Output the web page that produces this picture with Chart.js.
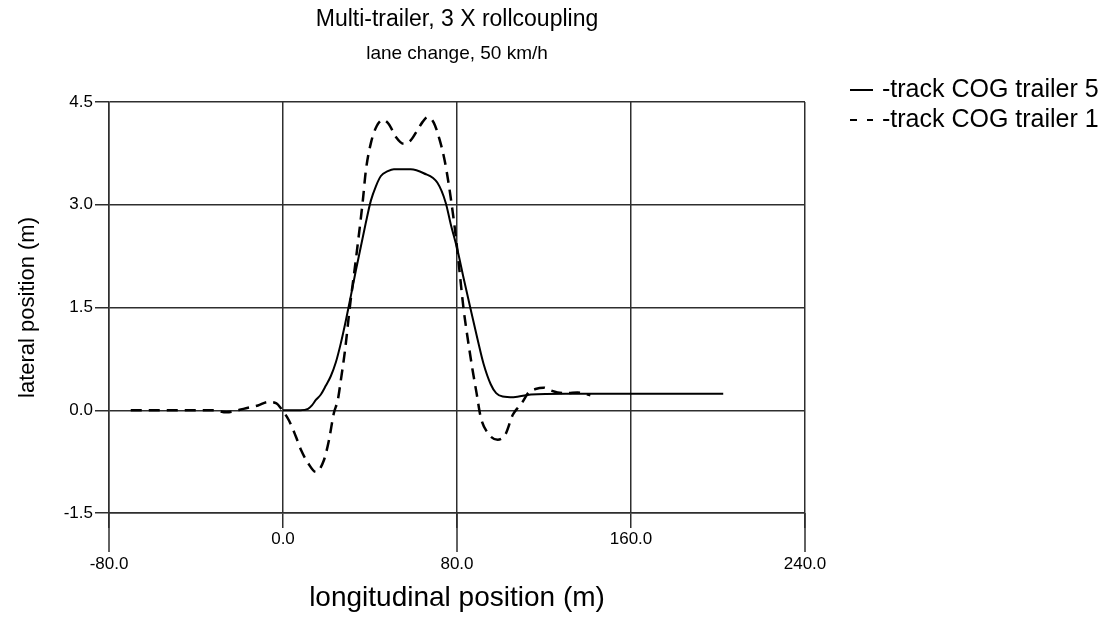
<!DOCTYPE html>
<html><head><meta charset="utf-8">
<script src="https://cdn.jsdelivr.net/npm/chart.js@4.4.1/dist/chart.umd.min.js"></script>
<style>html,body{margin:0;padding:0;background:#fff}#wrap{width:1113px;height:618px}</style>
</head><body><div id="wrap"><canvas id="c" width="1113" height="618"></canvas></div>
<script>
const titleText = 'Multi-trailer, 3 X rollcoupling';
const subtitleText = 'lane change, 50 km/h';
const xAxisTitle = 'longitudinal position (m)';
const yAxisTitle = 'lateral position (m)';
const xTicks = [-80, 0, 80, 160, 240];
const yTicks = [-1.5, 0, 1.5, 3, 4.5];
const seriesLabels = ['-track COG trailer 5', '-track COG trailer 1'];

const trailer5X = [0, 8, 11.5, 13.3, 15.1, 17.4, 19.7, 22, 24.3, 26.6, 28.9, 31.2, 33.5, 35.8, 38.1, 40.4, 42.7, 45, 48.2, 51, 58.7, 64.7, 71, 74.8, 77.1, 80.3, 83.1, 86.3, 89.5, 92.2, 95.5, 98, 101, 106, 114, 130, 160, 202.4];
const trailer5Y = [0, 0, 0.02, 0.07, 0.15, 0.23, 0.36, 0.5, 0.7, 0.98, 1.31, 1.67, 2.04, 2.39, 2.74, 3.06, 3.27, 3.42, 3.49, 3.52, 3.52, 3.46, 3.32, 3.03, 2.72, 2.33, 1.92, 1.47, 1.03, 0.68, 0.38, 0.25, 0.2, 0.19, 0.23, 0.24, 0.24, 0.24];

const trailer1X = [-70, -47, -40, -32, -26, -17, -11.5, -7, -3, -1, 2.75, 6, 8.3, 11.5, 15.1, 18.8, 21.1, 23.4, 25.2, 26.6, 28.5, 30.7, 33.5, 36.7, 38.1, 40.4, 43.1, 45.9, 48.6, 51.9, 55.5, 58.7, 62, 64.2, 66.5, 69.3, 72, 74.3, 76.2, 78, 79.4, 80.8, 83.1, 84.4, 87.2, 89, 90.9, 94.1, 98.7, 102.3, 105.6, 108.3, 110.1, 112.9, 116.1, 119.8, 123, 126.2, 130.8, 135.4, 141.3];
const trailer1Y = [0, 0, 0, 0, -0.03, 0.03, 0.07, 0.12, 0.1, 0.03, -0.15, -0.39, -0.58, -0.77, -0.9, -0.73, -0.44, -0.04, 0.15, 0.44, 0.87, 1.5, 2.2, 3.06, 3.5, 3.9, 4.15, 4.24, 4.18, 3.99, 3.89, 3.94, 4.1, 4.21, 4.28, 4.2, 3.95, 3.65, 3.3, 2.9, 2.55, 2.14, 1.46, 1.16, 0.58, 0.25, -0.1, -0.33, -0.43, -0.35, -0.07, 0.05, 0.12, 0.26, 0.31, 0.33, 0.29, 0.26, 0.25, 0.26, 0.22];

const FONT = '"Liberation Sans", Arial, Helvetica, sans-serif';
const gridColor = '#2e2e2e';
Chart.defaults.font.family = FONT;
Chart.defaults.color = '#000';

const toPts = (xs, ys) => xs.map((x, i) => ({x: x, y: ys[i]}));

const sideLegend = {
  id: 'sideLegend',
  afterDraw(chart) {
    const ctx = chart.ctx;
    const x0 = chart.chartArea.right + 45;
    ctx.save();
    chart.data.datasets.forEach((ds, i) => {
      const y = 90 + i * 30;
      ctx.strokeStyle = '#000';
      ctx.lineWidth = 2;
      ctx.setLineDash(ds.borderDash && ds.borderDash.length ? [7, 10] : []);
      ctx.beginPath(); ctx.moveTo(x0, y); ctx.lineTo(x0 + 23, y); ctx.stroke();
      ctx.setLineDash([]);
      ctx.fillStyle = '#000';
      ctx.font = '25px ' + FONT;
      ctx.textBaseline = 'middle';
      ctx.textAlign = 'left';
      ctx.fillText(ds.label, x0 + 32, y);
    });
    ctx.restore();
  }
};

const longTicks = {
  id: 'longTicks',
  afterDraw(chart) {
    const s = chart.scales.x, ctx = chart.ctx;
    ctx.save();
    ctx.strokeStyle = gridColor;
    ctx.lineWidth = 1.5;
    xTicks.forEach((v, i) => {
      if (i % 2 === 0) {
        const px = s.getPixelForValue(v);
        ctx.beginPath(); ctx.moveTo(px, s.top); ctx.lineTo(px, s.top + 39); ctx.stroke();
      }
    });
    ctx.restore();
  }
};

new Chart(document.getElementById('c'), {
  type: 'line',
  data: {
    datasets: [
      { label: seriesLabels[0], data: toPts(trailer5X, trailer5Y), borderColor: '#000', borderWidth: 2, pointRadius: 0, cubicInterpolationMode: 'monotone', fill: false },
      { label: seriesLabels[1], data: toPts(trailer1X, trailer1Y), borderColor: '#000', borderWidth: 2.5, borderDash: [11, 7], pointRadius: 0, cubicInterpolationMode: 'monotone', fill: false }
    ]
  },
  options: {
    responsive: false,
    animation: false,
    devicePixelRatio: 1,
    layout: { padding: { left: 0, right: 308, top: 0, bottom: 0 } },
    plugins: {
      legend: { display: false },
      tooltip: { enabled: false },
      title: { display: true, text: titleText, fullSize: false, color: '#000', font: { size: 23, weight: 'normal' }, padding: { top: 6, bottom: 6 } },
      subtitle: { display: true, text: subtitleText, fullSize: false, color: '#000', font: { size: 19, weight: 'normal' }, padding: { top: 2.5, bottom: 37.1 } }
    },
    scales: {
      x: {
        type: 'linear', min: -80, max: 240,
        afterBuildTicks: s => { s.ticks = xTicks.map(v => ({ value: v })); },
        afterFit: s => { s.height = 105; },
        grid: { color: gridColor, lineWidth: 1.5, tickLength: 15, tickColor: gridColor },
        border: { display: true, color: gridColor, width: 1.5 },
        ticks: {
          padding: 1, color: '#000', autoSkip: false, maxRotation: 0,
          font: c => ({ size: 17, lineHeight: (c.index % 2 === 0) ? 1.37 : 1.2 }),
          callback: (v, i) => (i % 2 === 0) ? ['', Number(v).toFixed(1)] : Number(v).toFixed(1)
        },
        title: { display: true, text: xAxisTitle, color: '#000', font: { size: 28 }, padding: { top: 0, bottom: 3 } }
      },
      y: {
        type: 'linear', min: -1.5, max: 4.5,
        afterBuildTicks: s => { s.ticks = yTicks.map(v => ({ value: v })); },
        afterFit: s => { s.width = 109; },
        grid: { color: gridColor, lineWidth: 1.5, tickLength: 14, tickColor: gridColor },
        border: { display: true, color: gridColor, width: 1.5 },
        ticks: { padding: 2, color: '#000', font: { size: 17 }, callback: v => Number(v).toFixed(1) },
        title: { display: true, text: yAxisTitle, color: '#000', font: { size: 22 }, padding: { top: 15, bottom: 0 } }
      }
    }
  },
  plugins: [longTicks, sideLegend]
});
</script>
</body></html>
